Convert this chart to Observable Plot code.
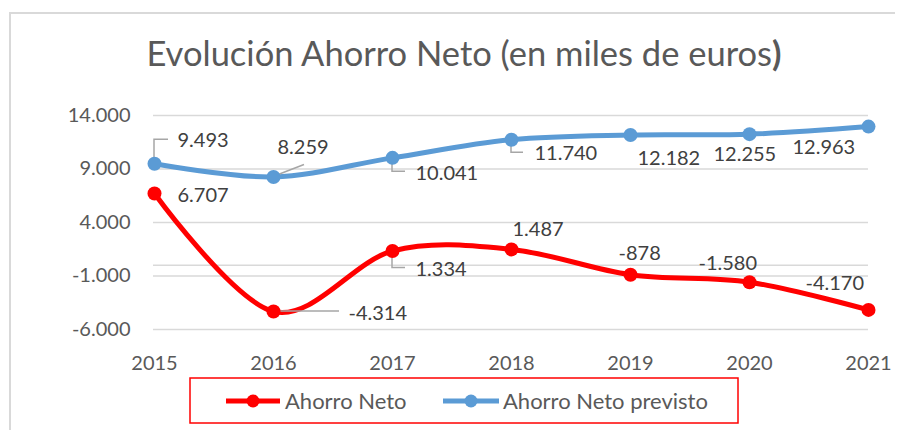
<!DOCTYPE html>
<html>
<head>
<meta charset="utf-8">
<script src="https://cdn.jsdelivr.net/npm/d3@7"></script>
<script src="https://cdn.jsdelivr.net/npm/@observablehq/plot@0.6"></script>
<style>
  body { margin: 0; background: #fff; font-family: Lato, "Noto Sans", sans-serif; }
  #wrap { position: relative; width: 903px; height: 430px; overflow: hidden; background: #fff; }
  #frame { position: absolute; left: 9px; top: 12px; width: 884px; height: 440px;
           border-left: 2px solid #d9d9d9; border-top: 2px solid #d9d9d9; }
  #title { position: absolute; left: 0; top: 36px; width: 928px; text-align: center;
           font-family: Lato, sans-serif; font-size: 34.5px; line-height: 34.5px; color: #595959; white-space: nowrap; }
  #title b { font-weight: 700; }
  #chart { position: absolute; left: 0; top: 95px; }
  #legend { position: absolute; left: 189px; top: 377px; }
</style>
</head>
<body>
<div id="wrap">
  <div id="frame"></div>
  <div id="title"></div>
  <div id="chart"></div>
  <div id="legend"></div>
</div>
<script>
// ---- data ----
const years = [2015, 2016, 2017, 2018, 2019, 2020, 2021];
const ahorroNeto = [6707, -4314, 1334, 1487, -878, -1580, -4170];
const ahorroNetoPrevisto = [9493, 8259, 10041, 11740, 12182, 12255, 12963];
const yTicks = [-6000, -1000, 4000, 9000, 14000];
const seriesNames = ["Ahorro Neto", "Ahorro Neto previsto"];
const titleText = "Evolución Ahorro Neto (en miles de euros";

// ---- styling / layout ----
const colors = ["#FF0000", "#5B9BD5"];
// label offsets (px) relative to each point: [dx, dy]
const redLabelOffsets = [[23, 2], [75, 2], [23, 19], [1, -20], [-12, -21], [-51, -19], [-63, -26]];
const blueLabelOffsets = [[23, -23], [4, -29], [23, 16], [23, 14], [7, 24], [-36, 20], [-76, 21]];
// leader lines (px, relative to point) for some labels
const redLeaders = {1: [[0, 0], [66, 0]], 2: [[0, 0], [0, 17], [13, 17]]};
const blueLeaders = {0: [[0, 0], [0, -24], [14, -24]], 1: [[0, 0], [31, -12]], 2: [[0, 0], [0, 14], [13, 14]], 3: [[0, 0], [0, 13], [12, 13]]};

const fmt = d3.formatLocale({decimal: ",", thousands: ".", grouping: [3], currency: ["", " €"], minus: "-"}).format(",d");

document.getElementById("title").innerHTML = titleText + "<b>)</b>";

const rows = (vals, s) => years.map((yr, i) => ({year: yr, value: vals[i], serie: s}));
const red = rows(ahorroNeto, seriesNames[0]);
const blue = rows(ahorroNetoPrevisto, seriesNames[1]);

const labelMarks = [];
[[blue, blueLabelOffsets], [red, redLabelOffsets]].forEach(([d, offs]) => {
  d.forEach((p, i) => {
    labelMarks.push(Plot.text([p], {
      x: "year", y: "value", text: q => fmt(q.value),
      textAnchor: "start", dx: offs[i][0], dy: offs[i][1],
      fill: "#404040", fontSize: 20
    }));
  });
});

const plot = Plot.plot({
  width: 903, height: 280,
  marginLeft: 153, marginRight: 35, marginTop: 20, marginBottom: 46,
  style: {fontFamily: "Lato, sans-serif", fontSize: "20px", color: "#595959", background: "transparent", overflow: "visible"},
  x: {type: "point", domain: years, padding: 0, tickSize: 0, tickPadding: 26, tickFormat: d => String(d), label: null},
  y: {domain: [-6000, 14000], ticks: yTicks, tickFormat: fmt, tickSize: 0, tickPadding: 23, label: null},
  marks: [
    Plot.ruleY(yTicks, {stroke: "#d9d9d9", strokeWidth: 1.5}),
    Plot.ruleY([0], {stroke: "#d9d9d9", strokeWidth: 1.5}),
    Plot.line(blue, {x: "year", y: "value", stroke: colors[1], strokeWidth: 5, curve: "cardinal"}),
    Plot.line(red, {x: "year", y: "value", stroke: colors[0], strokeWidth: 5, curve: "cardinal"}),
    Plot.dot(blue, {x: "year", y: "value", r: 7, fill: colors[1], stroke: "none"}),
    Plot.dot(red, {x: "year", y: "value", r: 7, fill: colors[0], stroke: "none"}),
    ...labelMarks
  ]
});
document.getElementById("chart").appendChild(plot);

// leader lines using the plot's own scales, drawn beneath the dots
const sx = plot.scale("x"), sy = plot.scale("y");
const firstDot = plot.querySelector('g[aria-label="dot"]');
const leaderG = document.createElementNS("http://www.w3.org/2000/svg", "g");
plot.insertBefore(leaderG, firstDot);
const drawLeaders = (d, leaders) => {
  Object.entries(leaders).forEach(([i, pts]) => {
    const px = sx.apply(d[+i].year), py = sy.apply(d[+i].value);
    d3.select(leaderG).append("path")
      .attr("d", "M" + pts.map(([a, b]) => (px + a) + "," + (py + b)).join("L"))
      .attr("fill", "none").attr("stroke", "#a6a6a6").attr("stroke-width", 1.5);
  });
};
drawLeaders(blue, blueLeaders);
drawLeaders(red, redLeaders);

// legend
const lg = d3.select("#legend").append("svg").attr("width", 551).attr("height", 48)
  .style("font-family", "Lato, sans-serif");
lg.append("rect").attr("x", 1).attr("y", 1).attr("width", 548).attr("height", 45)
  .attr("fill", "none").attr("stroke", "#FF0000").attr("stroke-width", 1.5);
const items = [{x1: 37, x2: 91, tx: 96}, {x1: 254, x2: 310, tx: 314}];
items.forEach((it, k) => {
  const cy = 24;
  lg.append("line").attr("x1", it.x1).attr("x2", it.x2).attr("y1", cy).attr("y2", cy)
    .attr("stroke", colors[k]).attr("stroke-width", 5);
  lg.append("circle").attr("cx", (it.x1 + it.x2) / 2).attr("cy", cy).attr("r", 6.5).attr("fill", colors[k]);
  lg.append("text").attr("x", it.tx).attr("y", cy).attr("dy", "0.35em")
    .attr("font-size", 22).attr("fill", "#595959").text(seriesNames[k]);
});
</script>
</body>
</html>
